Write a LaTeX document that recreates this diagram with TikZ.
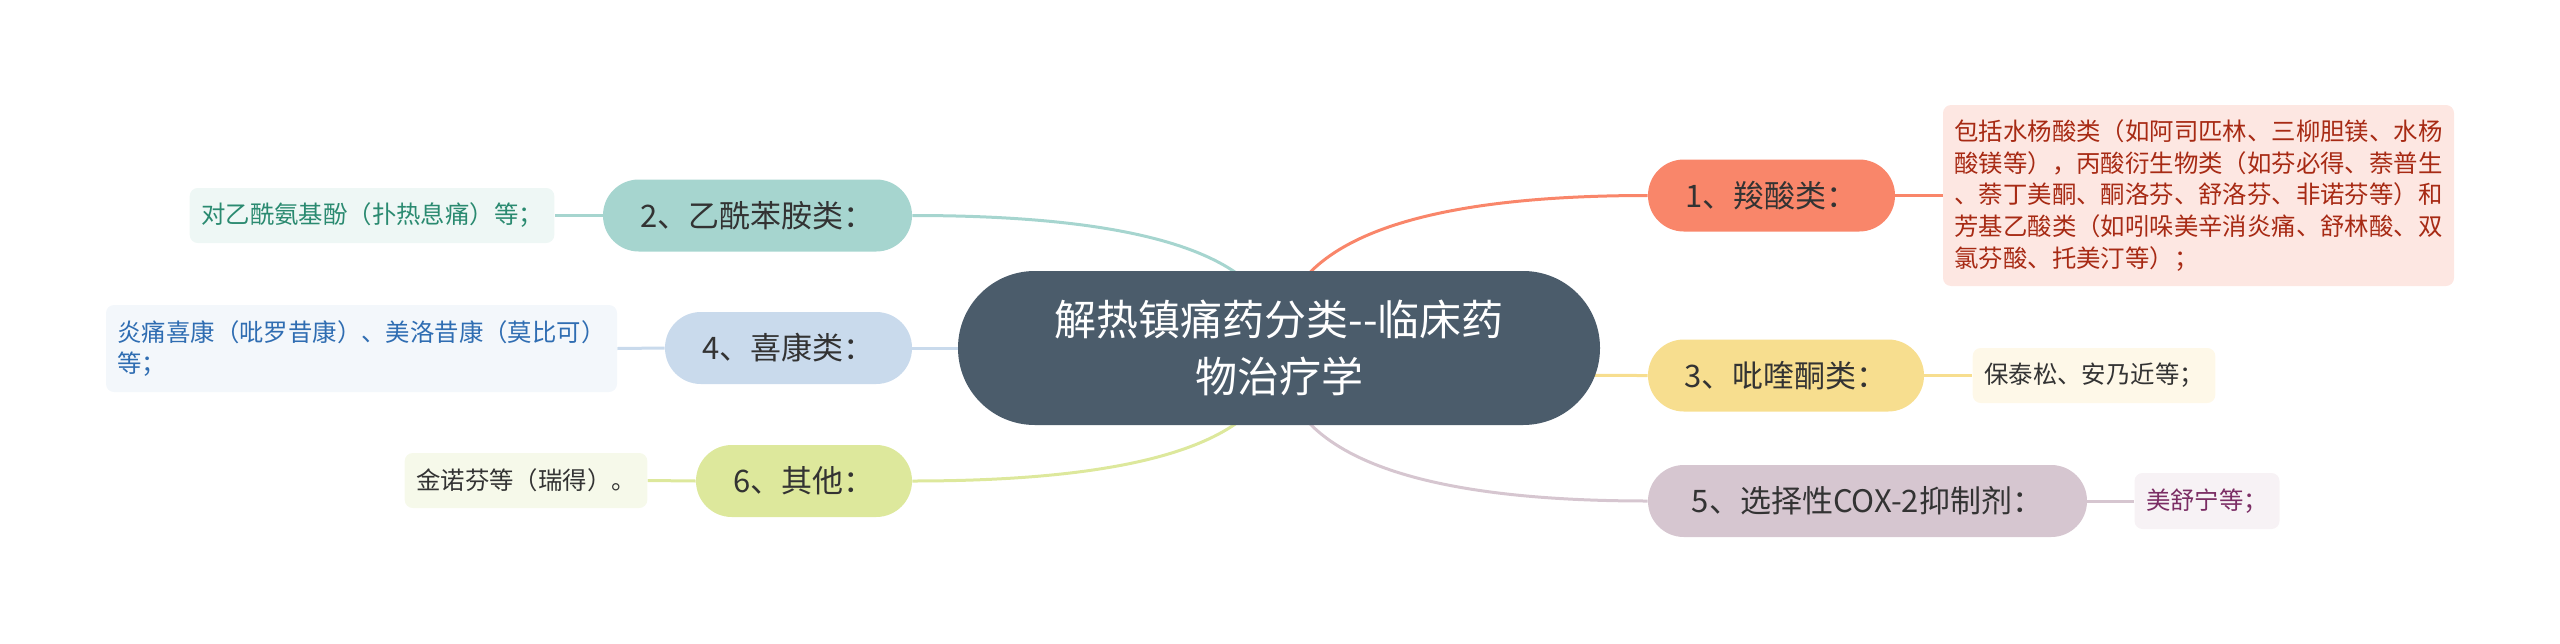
\documentclass[tikz,border=0pt]{standalone}
\usepackage{fontspec}
\newfontfamily\cjk{Noto Sans CJK SC}
\usetikzlibrary{calc,backgrounds}
\definecolor{rootc}{HTML}{4B5C6B}
\definecolor{ca}{HTML}{F9866A}
\definecolor{cc}{HTML}{F7DE8F}
\definecolor{ce}{HTML}{D6C6D0}
\definecolor{cb}{HTML}{A6D5CF}
\definecolor{cd}{HTML}{C9DAEC}
\definecolor{cf}{HTML}{DDE89C}
\definecolor{fa}{HTML}{FDE7E2}
\definecolor{fc}{HTML}{FEF8E8}
\definecolor{fe}{HTML}{F7F2F5}
\definecolor{fb}{HTML}{EEF7F5}
\definecolor{fd}{HTML}{F3F7FB}
\definecolor{ff}{HTML}{F6F9EA}
\definecolor{ta}{HTML}{A72A14}
\definecolor{tc}{HTML}{333333}
\definecolor{te}{HTML}{7B2D64}
\definecolor{tb}{HTML}{2A8A70}
\definecolor{td}{HTML}{2F6DB2}
\definecolor{tf}{HTML}{333333}
\definecolor{ntext}{HTML}{333333}
\tikzset{
  rootbox/.style={fill=rootc, text=white, rounded corners=38.4pt, minimum width=321pt, minimum height=77pt,
    align=center, inner sep=0pt, font=\cjk\fontsize{21}{28.5}\selectfont},
  topicbox/.style={rounded corners=17.9pt, minimum height=36pt, inner sep=0pt, text=ntext,
    font=\cjk\fontsize{15.5}{20}\selectfont},
  detailbox/.style={rounded corners=4pt, inner xsep=5.75pt, inner ysep=0pt, align=left,
    font=\cjk\fontsize{12.2}{15.9}\selectfont},
  conn/.style={line width=1.5pt, draw=#1},
}
\begin{document}
\begin{tikzpicture}[x=0.5pt,y=-0.5pt]
\useasboundingbox (0,0) rectangle (2560,643);
% root
\node[rootbox] (C) at (1279,348) {解热镇痛药分类--临床药\\物治疗学};
% topics
\node[topicbox, fill=ca, minimum width=123.5pt] (N1) at (1771.5,195.5) {1、羧酸类：};
\node[topicbox, fill=cc, minimum width=138pt] (N3) at (1786,375.5) {3、吡喹酮类：};
\node[topicbox, fill=ce, minimum width=219.5pt] (N5) at (1867.5,501) {5、选择性COX-2抑制剂：};
\node[topicbox, fill=cb, minimum width=154.5pt] (N2) at (757.5,215.5) {2、乙酰苯胺类：};
\node[topicbox, fill=cd, minimum width=123.5pt] (N4) at (788.5,348) {4、喜康类：};
\node[topicbox, fill=cf, minimum width=108pt] (N6) at (804,481) {6、其他：};
% details
\node[detailbox, fill=fa, text=ta, text width=244pt, minimum height=90.5pt] (D1) at (2198.5,195.5)
  {包括水杨酸类（如阿司匹林、三柳胆镁、水杨\\酸镁等），丙酸衍生物类（如芬必得、萘普生\\、萘丁美酮、酮洛芬、舒洛芬、非诺芬等）和\\芳基乙酸类（如吲哚美辛消炎痛、舒林酸、双\\氯芬酸、托美汀等）；};
\node[detailbox, fill=fc, text=tc, minimum width=121pt, minimum height=27.5pt] (D3) at (2094,375.5) {保泰松、安乃近等；};
\node[detailbox, fill=fe, text=te, minimum width=72pt, minimum height=28pt] (D5) at (2207,501) {美舒宁等；};
\node[detailbox, fill=fb, text=tb, minimum width=182pt, minimum height=27.5pt] (D2) at (372,215.5) {对乙酰氨基酚（扑热息痛）等；};
\node[detailbox, fill=fd, text=td, text width=244pt, minimum height=43.5pt] (D4) at (361.5,348.5)
  {炎痛喜康（吡罗昔康）、美洛昔康（莫比可）\\等；};
\node[detailbox, fill=ff, text=tf, minimum width=121pt, minimum height=27.5pt] (D6) at (526,480.5) {金诺芬等（瑞得）。};
% connectors
\begin{scope}[on background layer]
\foreach \n/\s/\c in {N1/west/ca, N3/west/cc, N5/west/ce, N2/east/cb, N4/east/cd, N6/east/cf}{
  \draw[conn=\c] (C.center) .. controls ($(C.center)!0.6667!(C.center |- \n.\s)$)
    and ($(\n.\s)!0.6667!(C.center |- \n.\s)$) .. (\n.\s);
}
\draw[conn=ca] (N1.east) -- (D1.west);
\draw[conn=cc] (N3.east) -- (D3.west);
\draw[conn=ce] (N5.east) -- (D5.west);
\draw[conn=cb] (N2.west) -- (D2.east);
\draw[conn=cd] (N4.west) -- (D4.east);
\draw[conn=cf] (N6.west) -- (D6.east);
\end{scope}
\end{tikzpicture}
\end{document}
